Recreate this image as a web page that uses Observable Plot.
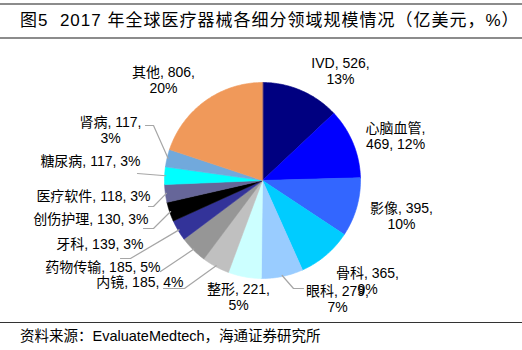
<!DOCTYPE html>
<html><head><meta charset="utf-8">
<script src="https://cdn.jsdelivr.net/npm/d3@7"></script>
<script src="https://cdn.jsdelivr.net/npm/@observablehq/plot@0.6"></script>
<style>
body{margin:0;background:#fff;}
#wrap{width:522px;height:350px;position:relative;overflow:hidden;background:#fff;font-family:"Liberation Sans","Noto Sans CJK SC",sans-serif;color:#000;}
#topline{position:absolute;left:0;top:3px;width:522px;height:2px;background:#8c8c8c;}
#title{position:absolute;left:20px;top:9px;font-size:17px;line-height:24px;white-space:pre;letter-spacing:1px;}
#titleline{position:absolute;left:0;top:37px;width:522px;height:2px;background:#8c8c8c;}
#chart{position:absolute;left:0;top:40px;}
#botline{position:absolute;left:0;top:322px;width:522px;height:1px;background:#333;}
#source{position:absolute;left:20px;top:327px;font-size:14.5px;line-height:18px;white-space:pre;}
</style></head>
<body><div id="wrap">
<div id="topline"></div>
<div id="title">图5  2017 年全球医疗器械各细分领域规模情况（亿美元，%）</div>
<div id="titleline"></div>
<div id="chart"></div>
<div id="botline"></div>
<div id="source">资料来源：EvaluateMedtech，海通证券研究所</div>
</div>
<script>
// ---- data ----
const categories = ["IVD","心脑血管","影像","骨科","眼科","整形","内镜","药物传输","牙科","创伤护理","医疗软件","糖尿病","肾病","其他"];
const values = [526,469,395,365,279,221,185,185,139,130,118,117,117,806];
const percentLabels = ["13%","12%","10%","9%","7%","5%","4%","5%","3%","3%","3%","3%","3%","20%"];
const colors = ["#000080","#0000FF","#3366FF","#00CCFF","#99CCFF","#CCFFFF","#C0C0C0","#969696","#333399","#000000","#666699","#00FFFF","#71A9DC","#F0995A"];

// ---- label layout (page pixel positions, annotation only) ----
const labelLayout = [
  {px:340, py:70,  anchor:"middle", br:true},
  {px:395, py:135, anchor:"middle", br:"after-name"},
  {px:401, py:215, anchor:"middle", br:true},
  {px:367, py:280, anchor:"middle", br:true},
  {px:337, py:298, anchor:"middle", br:true, leader:[[293,288],[303,288]]},
  {px:238, py:296, anchor:"middle", br:true},
  {px:183, py:281, anchor:"end", br:false, leader:[[184,288],[163,288]]},
  {px:160, py:266, anchor:"end", br:false, leader:[[160,271]]},
  {px:143, py:243, anchor:"end", br:false, leader:[[130,258],[120,258]]},
  {px:148, py:218, anchor:"end", br:false, leader:[[153,228],[143,228]]},
  {px:150, py:195, anchor:"end", br:false, leader:[[153,206],[148,206]]},
  {px:140, py:160, anchor:"end", br:false, leader:[[137,173]]},
  {px:110, py:129, anchor:"middle", br:true, leader:[[153,125],[145,125]]},
  {px:163, py:79,  anchor:"middle", br:true}
];

const R = 98, CX = 262, CY = 180; // pie centre in page px
const toX = px => px - CX, toY = py => CY - py;

const arcs = d3.pie().sort(null).value(d => d)(values);

const slices = [];
arcs.forEach((a, i) => {
  slices.push({name: categories[i], color: colors[i], x: 0, y: 0});
  const n = Math.max(2, Math.ceil((a.endAngle - a.startAngle) / (Math.PI / 180)));
  for (let k = 0; k <= n; k++) {
    const t = a.startAngle + (a.endAngle - a.startAngle) * k / n;
    slices.push({name: categories[i], color: colors[i], x: R * Math.sin(t), y: R * Math.cos(t)});
  }
});

const labels = arcs.map((a, i) => {
  const L = labelLayout[i];
  let text;
  if (L.br === "after-name") text = `${categories[i]},\n${values[i]}, ${percentLabels[i]}`;
  else if (L.br) text = `${categories[i]}, ${values[i]},\n${percentLabels[i]}`;
  else text = `${categories[i]}, ${values[i]}, ${percentLabels[i]}`;
  return {text, x: toX(L.px), y: toY(L.py), anchor: L.anchor};
});

const leaders = [];
arcs.forEach((a, i) => {
  const L = labelLayout[i];
  if (!L.leader) return;
  const m = (a.startAngle + a.endAngle) / 2;
  leaders.push({id: i, x: (R - 1) * Math.sin(m), y: (R - 1) * Math.cos(m)});
  L.leader.forEach(([px, py]) => leaders.push({id: i, x: toX(px), y: toY(py)}));
});

const font = '"Liberation Sans","Noto Sans CJK SC",sans-serif';
const plot = Plot.plot({
  width: 522, height: 280,
  margin: 0,
  x: {domain: [-262, 260], axis: null},
  y: {domain: [-140, 140], axis: null},
  style: {background: "white", fontFamily: font},
  marks: [
    Plot.line(slices, {x: "x", y: "y", z: "name", fill: "color", stroke: "color", strokeWidth: 0.6, curve: "linear-closed"}),
    Plot.line(leaders, {x: "x", y: "y", z: "id", stroke: "#a6a6a6", strokeWidth: 1.2}),
    Plot.text(labels.filter(d => d.anchor === "middle"), {x: "x", y: "y", text: "text", textAnchor: "middle", fontSize: 14, lineHeight: 1.18, fill: "#000", fontFamily: font}),
    Plot.text(labels.filter(d => d.anchor === "end"), {x: "x", y: "y", text: "text", textAnchor: "end", fontSize: 14, lineHeight: 1.18, fill: "#000", fontFamily: font})
  ]
});
document.getElementById("chart").appendChild(plot);
</script>
</body></html>
